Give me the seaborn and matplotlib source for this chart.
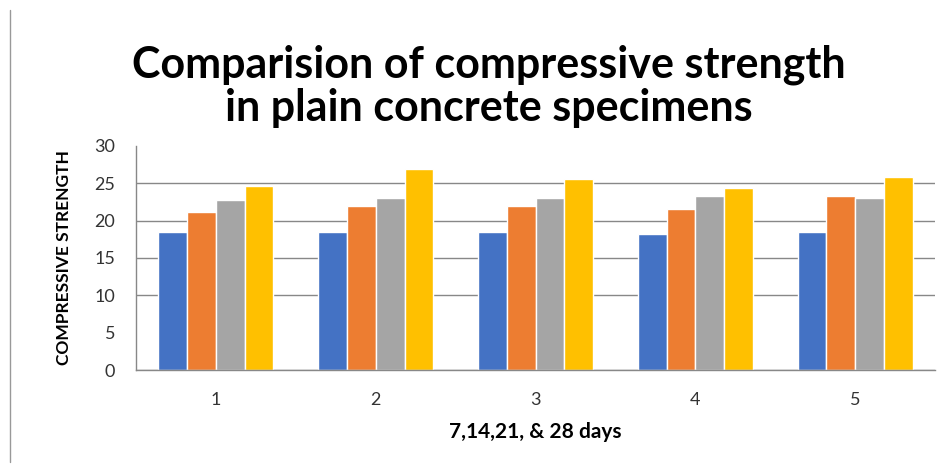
import pandas as pd
import numpy as np
import matplotlib
matplotlib.use('Agg')
import matplotlib.pyplot as plt
import seaborn as sns
from matplotlib.lines import Line2D

# values
specimens = ['1', '2', '3', '4', '5']
days_7 = [18.5, 18.5, 18.5, 18.2, 18.5]
days_14 = [21.1, 22.0, 22.0, 21.6, 23.3]
days_21 = [22.8, 23.0, 23.0, 23.3, 23.0]
days_28 = [24.7, 26.9, 25.6, 24.4, 25.9]
series_names = ['7 days', '14 days', '21 days', '28 days']
colors = ['#4472C4', '#ED7D31', '#A5A5A5', '#FFC000']

# long form table for seaborn
rows = []
for name, vals in zip(series_names, [days_7, days_14, days_21, days_28]):
    for s, v in zip(specimens, vals):
        rows.append({'specimen': s, 'series': name, 'strength': v})
df = pd.DataFrame(rows)

sns.set_style('white')
plt.rcParams['font.family'] = ['Lato', 'DejaVu Sans']

fig = plt.figure(figsize=(9.52, 4.67), dpi=100)
ax = fig.add_axes([0.1429, 0.2077, 0.8393, 0.4797])

sns.barplot(data=df, x='specimen', y='strength', hue='series', palette=colors,
            width=0.72, saturation=1, legend=False, ax=ax, errorbar=None)

ax.set_ylim(0, 30)
ax.set_yticks(np.arange(0, 31, 5))
ax.set_xlim(-0.5, 4.5)
ax.set_xticks(np.arange(-0.5, 5, 1), minor=True)
ax.tick_params(axis='x', which='major', length=0, labelsize=13, colors='#333333', pad=16)
ax.tick_params(axis='x', which='minor', length=5, color='#888888', direction='out')
ax.tick_params(axis='y', length=8, color='#888888', labelsize=13, labelcolor='#333333', pad=7)

ax.yaxis.grid(True, color='#888888', lw=1)
ax.set_axisbelow(True)
# gridlines at 5 and 30 are not visible in the source picture
gl = ax.get_ygridlines()
gl[1].set_visible(False)
gl[-1].set_visible(False)

for side in ['top', 'right']:
    ax.spines[side].set_visible(False)
for side in ['left', 'bottom']:
    ax.spines[side].set_color('#888888')
    ax.spines[side].set_linewidth(1)

ax.set_xlabel('7,14,21, & 28 days', fontsize=15, fontweight='bold', color='black', labelpad=10)
ax.set_ylabel('COMPRESSIVE STRENGTH', fontsize=12.5, fontweight='bold', color='black', labelpad=16)

fig.text(0.513, 0.815, 'Comparision of compressive strength\nin plain concrete specimens',
         ha='center', va='center', fontsize=31, fontweight='bold', color='black',
         linespacing=1.08)

# thin frame line on the left edge of the picture
fig.add_artist(Line2D([10 / 952, 10 / 952], [1 - 10 / 467, 1 - 462 / 467],
                      color='#999999', lw=1, transform=fig.transFigure))

fig.savefig('out.png', dpi=100)
